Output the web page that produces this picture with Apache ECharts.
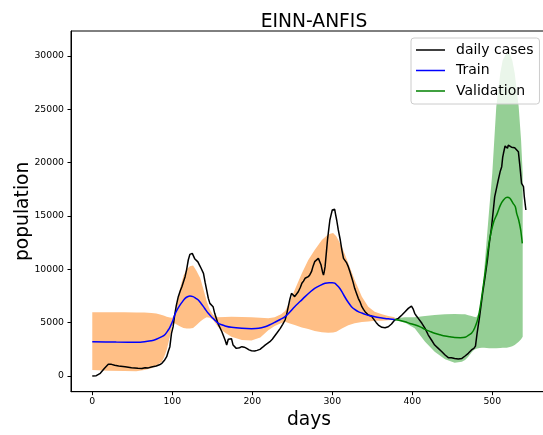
<!DOCTYPE html>
<html>
<head>
<meta charset="utf-8">
<script src="https://cdn.jsdelivr.net/npm/echarts@6/dist/echarts.min.js"></script>
<style>
html,body{margin:0;padding:0;background:#fff;}
#chart{width:543px;height:435px;}
</style>
</head>
<body>
<div id="chart"></div>
<script>
// ---- data ----
const xTicks = [0, 100, 200, 300, 400, 500];
const yTicks = [0, 5000, 10000, 15000, 20000, 25000, 30000];

const casesDays = [0,5,10,15,20,24,28,33,41,49,57,62,66,70,74,80,84,87,90,93,95,97,99,101,103,105,107.5,110,112,116,118,120,122,123,124,125,126,128,130,132,134,136,139,141,143,145,147,149,151,153,157,162,166,168,170,172,174,176,180,184,187,190,193,196,199,203,206,209.6,213,216,219,222,225,228,231,235,238,241,243,245,247,249,251,253,255,257.5,260,262,264,266,268,270,272,274,276,278,280,282.6,284,286,288,289,290,291,292.5,294,295.5,297,298.5,300,301.5,303,304,305.5,307.5,310,312,314,316,318,320,322,324,326,328,330,332.5,335,337,339,341,343,345,347,349,351,353,355,357.6,360,362,366,370,374,378,382.5,387,391,395,397,399,400,401,403,405,407.5,412,416,420,424,428,432.5,437,441,445,449,453,457.5,462,466,470,474,477,479,481,484,488,491,494,496,499,503,505,507.5,510,511.8,513,514,516,517,519,520,522,524,526,528,530,532.6,534.6,536.6,539,540,542];
const casesValues = [0,30,250,700,1100,1090,1000,940,875,780,720,700,780,760,840,940,1050,1190,1450,1810,2300,2750,4000,4600,5700,6600,7440,8000,8375,9310,10000,10875,11400,11560,11300,11500,11340,11000,10875,10700,10400,10100,9625,8800,8060,7300,6810,6650,6500,5875,4940,4150,3375,2900,3440,3500,3500,2900,2590,2650,2750,2700,2590,2450,2375,2340,2400,2500,2700,2900,3050,3220,3450,3750,4050,4470,4850,5250,5800,6500,7200,7750,7900,7440,7600,7900,8300,8690,8900,9160,9200,9310,9500,9780,10300,10720,10900,11030,10900,10400,9700,9470,9800,10250,11500,12750,13700,14625,15100,15560,15720,15625,15200,14625,13690,12750,11810,11030,10940,10600,10250,9800,9310,8800,8220,7800,7280,6900,6500,6250,6030,5850,5720,5650,5625,5400,5250,5000,4780,4650,4560,4530,4620,4875,5250,5400,5720,6030,6340,6190,6560,6500,6300,5875,5650,5400,4940,4470,3840,3375,2900,2590,2280,1970,1720,1720,1650,1590,1650,1875,2125,2440,2590,2800,4000,5500,7800,9300,10900,12300,13900,16800,17500,18375,19200,19625,20500,20880,21560,21400,21350,21650,21650,21450,21560,21400,21500,21030,19625,18060,17750,16810,15560];

const trainDays = [0,30,60,74,80,87,91,95,97,101,103,106,109.6,113,116,119,122,126,129,132.5,136,139,142,145,148,151,154,157.5,162,166,174,187,199,208,216,222,228,235,241,247,253,260,266,272,278,285,291,296,300,303,305.5,309,312,315,318,321,324,328,332.5,337,341,347,353,360,366,372,378];
const trainValues = [3200,3180,3170,3310,3450,3690,3900,4310,4560,5250,5720,6200,6650,7000,7280,7430,7500,7440,7300,7125,6800,6500,6180,5875,5620,5400,5180,4940,4800,4690,4560,4470,4440,4470,4620,4800,5030,5300,5560,6000,6500,7000,7440,7850,8220,8500,8690,8750,8750,8700,8530,8250,7900,7500,7125,6800,6500,6250,6030,5900,5780,5650,5560,5470,5400,5350,5300];

const valDays = [378,385,391,397,403,410,416,422,428,435,441,447,453,460,466,470,474,478,482.5,486,489,492,495,498,502,506,510,514,518.5,522,526,528.8,530.5,533,535.5,537.5];
const valValues = [5300,5200,5090,4930,4800,4600,4375,4180,4000,3860,3750,3670,3600,3590,3625,3800,4000,4500,5500,7000,8600,10200,12000,13300,14500,15200,16000,16500,16750,16660,16190,15870,15250,14625,13690,12440];

const trainBandDays = [0,20,40,55,65,74,80,87,90,93,97,100,103,106,110,114,118,122,126,130,135,139,143,147,151,157,166,174,187,199,210,220,228,236,241,246,253,262,270,278,287,295,301,305,312,320,328,337,345,353,362,370,378];
const trainBandUpper = [5970,5970,5970,5960,5950,5900,5850,5720,5640,5560,5480,5450,5800,6800,8300,9400,10000,10300,10350,9900,9160,8100,7000,6200,5720,5500,5530,5560,5540,5500,5450,5420,5500,5800,6100,6800,8060,9625,10875,11810,12750,13300,13400,13100,12125,10560,9000,7440,6500,6030,5780,5625,5500];
const trainBandLower = [560,500,460,450,560,720,950,1340,1800,2440,3690,4800,4940,4800,4650,4500,4450,4450,4500,4750,5100,5350,5500,5450,5250,4620,4060,3690,3375,3330,3600,4300,4690,4950,5090,4950,4780,4550,4400,4220,4100,4060,4080,4150,4450,4750,4940,5060,5120,5190,5190,5220,5250];

const valBandDays = [378,385,391,403,416,428,441,453,462,466,470,474,477,480,484,487,490,493,496,500,505,510,513,518,522,525,528,533,536,538];
const valBandUpper = [5350,5450,5500,5500,5625,5720,5780,5810,5800,5780,5700,5625,5550,5500,6000,7125,10000,12750,15500,19000,25250,28400,29600,30300,30200,29600,28400,25250,22100,19000];
const valBandLower = [5250,5100,5000,4470,3220,2280,1560,1250,1340,1500,1810,2200,2440,2550,2620,2650,2650,2620,2600,2590,2590,2620,2640,2660,2720,2780,2900,3220,3450,3690];

// ---- helpers ----
const pairs = (xs, ys) => xs.map((x, i) => [x, ys[i]]);
const bandRows = (xs, up, lo) => xs.map((x, i) => [x, up[i], lo[i]]);

const FONT = 'DejaVu Sans';
const chart = echarts.init(document.getElementById('chart'), null, {renderer: 'canvas'});

// A filled band between upper and lower curves, drawn as one polygon through the axis scales
function bandSeries(name, days, upper, lower, color) {
  return {
    name, type: 'custom', data: bandRows(days, upper, lower), silent: true, z: 1,
    encode: {x: 0, y: [1, 2]},
    renderItem: function (params, api) {
      if (params.dataIndex !== 0) return null;
      const pts = [];
      for (let i = 0; i < days.length; i++) pts.push(api.coord([days[i], upper[i]]));
      for (let i = days.length - 1; i >= 0; i--) pts.push(api.coord([days[i], lower[i]]));
      return {type: 'polygon', shape: {points: pts}, style: {fill: color, stroke: null}};
    }
  };
}

chart.setOption({
  animation: false,
  backgroundColor: '#ffffff',
  title: {
    text: 'EINN-ANFIS', left: 309, top: 8, textAlign: 'center',
    textStyle: {fontFamily: FONT, fontSize: 18.7, fontWeight: 'normal', color: '#000'}
  },
  legend: {
    data: [
      {name: 'daily cases', icon: 'rect'},
      {name: 'Train', icon: 'rect'},
      {name: 'Validation', icon: 'rect'}
    ],
    orient: 'vertical', left: 411, top: 38,
    padding: [5, 6, 6, 5],
    itemWidth: 29, itemHeight: 1.5, itemGap: 6.5,
    backgroundColor: 'rgba(255,255,255,0.8)', borderColor: '#cccccc', borderWidth: 1, borderRadius: 3,
    textStyle: {fontFamily: FONT, fontSize: 14, color: '#000', lineHeight: 14, padding: [0, 0, 0, 6]}
  },
  grid: {left: 71, top: 31, right: -4, bottom: 43.3, containLabel: false, outerBoundsMode: 'none',
         show: true, borderColor: '#000', borderWidth: 1, backgroundColor: 'transparent'},
  xAxis: {
    type: 'value', min: -26.6, max: 568.4,
    name: 'days', nameLocation: 'middle', nameGap: 19,
    nameTextStyle: {fontFamily: FONT, fontSize: 18.7, color: '#000'},
    axisLine: {show: true, onZero: false, lineStyle: {color: '#000', width: 1}},
    axisTick: {show: true, length: 3.5, customValues: xTicks, lineStyle: {color: '#000', width: 1}},
    axisLabel: {customValues: xTicks, margin: 5, fontFamily: FONT, fontSize: 9.3, color: '#000',
                formatter: v => String(v)},
    splitLine: {show: false}
  },
  yAxis: {
    type: 'value', min: -1472, max: 32344,
    name: 'population', nameLocation: 'middle', nameGap: 38, nameRotate: 90, nameMoveOverlap: false,
    nameTextStyle: {fontFamily: FONT, fontSize: 18.7, color: '#000'},
    axisLine: {show: true, onZero: false, lineStyle: {color: '#000', width: 1}},
    axisTick: {show: true, length: 3.5, customValues: yTicks, lineStyle: {color: '#000', width: 1}},
    axisLabel: {customValues: yTicks, margin: 7, fontFamily: FONT, fontSize: 9.3, color: '#000',
                formatter: v => String(v)},
    splitLine: {show: false}
  },
  series: [
    bandSeries('trainBand', trainBandDays, trainBandUpper, trainBandLower, '#ffbf86'),
    bandSeries('valBand', valBandDays, valBandUpper, valBandLower, '#95cf95'),
    {name: 'daily cases', type: 'line', data: pairs(casesDays, casesValues), symbol: 'none', showSymbol: false,
     lineStyle: {color: '#000000', width: 1.5}, itemStyle: {color: '#000000'}, z: 3},
    {name: 'Train', type: 'line', data: pairs(trainDays, trainValues), symbol: 'none', showSymbol: false, smooth: 0.3,
     lineStyle: {color: '#0000ff', width: 1.5}, itemStyle: {color: '#0000ff'}, z: 4},
    {name: 'Validation', type: 'line', data: pairs(valDays, valValues), symbol: 'none', showSymbol: false, smooth: 0.3,
     lineStyle: {color: '#008000', width: 1.5}, itemStyle: {color: '#008000'}, z: 4}
  ]
});
</script>
</body>
</html>
